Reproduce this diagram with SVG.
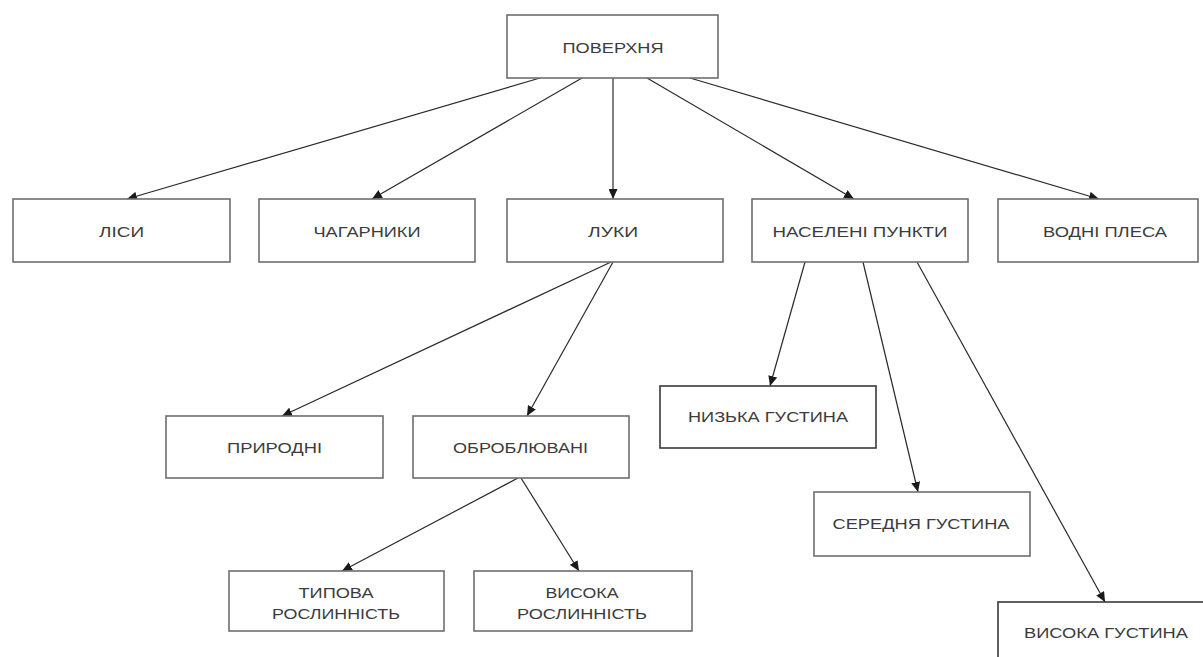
<svg xmlns="http://www.w3.org/2000/svg" width="1203" height="657" viewBox="0 0 1203 657">
<style>
.box{fill:#fff;stroke:#6e6e6e;stroke-width:1.6}
.dark{stroke:#3a3a3a}
.t{font-family:"Liberation Sans",Arial,sans-serif;font-size:15px;fill:#3c3c3c;text-anchor:middle;dominant-baseline:central}
.c{fill:none;stroke:#2a2a2a;stroke-width:1.2;marker-end:url(#ah)}
</style>
<defs>
<marker id="ah" markerUnits="userSpaceOnUse" markerWidth="11" markerHeight="9" refX="10" refY="4.5" orient="auto">
<path d="M0,0 L10,4.5 L0,9 z" fill="#1a1a1a"/>
</marker>
</defs>
<rect width="1203" height="657" fill="#fff"/>
<g id="connectors">
<line class="c" x1="540" y1="78" x2="127" y2="199"/>
<line class="c" x1="582" y1="78" x2="372" y2="199"/>
<line class="c" x1="613" y1="78" x2="613" y2="199"/>
<line class="c" x1="647" y1="78" x2="854" y2="199"/>
<line class="c" x1="690" y1="78" x2="1099" y2="199"/>
<line class="c" x1="611" y1="262" x2="282" y2="416"/>
<line class="c" x1="613" y1="262" x2="527" y2="416"/>
<line class="c" x1="518" y1="478" x2="342" y2="571"/>
<line class="c" x1="521" y1="478" x2="579" y2="571"/>
<line class="c" x1="805" y1="262" x2="770" y2="386"/>
<line class="c" x1="863" y1="262" x2="918" y2="492"/>
<line class="c" x1="917" y1="262" x2="1105" y2="602"/>
</g>
<g id="n-poverkhnia"><rect class="box" x="507" y="15" width="211" height="63"/><text class="t" x="613" y="47" textLength="101" lengthAdjust="spacingAndGlyphs">ПОВЕРХНЯ</text></g>
<g id="n-lisy"><rect class="box" x="13" y="199" width="217" height="63"/><text class="t" x="121.5" y="231" textLength="45" lengthAdjust="spacingAndGlyphs">ЛІСИ</text></g>
<g id="n-chaharnyky"><rect class="box" x="259" y="199" width="216" height="63"/><text class="t" x="367" y="231" textLength="107" lengthAdjust="spacingAndGlyphs">ЧАГАРНИКИ</text></g>
<g id="n-luky"><rect class="box" x="507" y="199" width="216" height="63"/><text class="t" x="613" y="231" textLength="50" lengthAdjust="spacingAndGlyphs">ЛУКИ</text></g>
<g id="n-naseleni"><rect class="box" x="752" y="199" width="216" height="63"/><text class="t" x="860" y="231" textLength="175" lengthAdjust="spacingAndGlyphs">НАСЕЛЕНІ ПУНКТИ</text></g>
<g id="n-vodni"><rect class="box" x="998" y="199" width="200" height="63"/><text class="t" x="1105" y="231" textLength="124" lengthAdjust="spacingAndGlyphs">ВОДНІ ПЛЕСА</text></g>
<g id="n-pryrodni"><rect class="box" x="166" y="416" width="217" height="62"/><text class="t" x="274.5" y="447" textLength="95" lengthAdjust="spacingAndGlyphs">ПРИРОДНІ</text></g>
<g id="n-obrobliuvani"><rect class="box" x="413" y="416" width="216" height="62"/><text class="t" x="520.5" y="447" textLength="135" lengthAdjust="spacingAndGlyphs">ОБРОБЛЮВАНІ</text></g>
<g id="n-typova"><rect class="box" x="229" y="571" width="215" height="60"/><text class="t" x="336" y="592" textLength="75" lengthAdjust="spacingAndGlyphs">ТИПОВА</text><text class="t" x="336" y="613" textLength="128" lengthAdjust="spacingAndGlyphs">РОСЛИННІСТЬ</text></g>
<g id="n-vysoka-rosl"><rect class="box" x="474" y="571" width="218" height="60"/><text class="t" x="582" y="592" textLength="73" lengthAdjust="spacingAndGlyphs">ВИСОКА</text><text class="t" x="582" y="613" textLength="130" lengthAdjust="spacingAndGlyphs">РОСЛИННІСТЬ</text></g>
<g id="n-nyzka"><rect class="box dark" x="660" y="386" width="216" height="62"/><text class="t" x="768" y="416" textLength="160" lengthAdjust="spacingAndGlyphs">НИЗЬКА ГУСТИНА</text></g>
<g id="n-serednia"><rect class="box" x="814" y="492" width="216" height="64"/><text class="t" x="921" y="523" textLength="177" lengthAdjust="spacingAndGlyphs">СЕРЕДНЯ ГУСТИНА</text></g>
<g id="n-vysoka-hust"><rect class="box dark" x="998" y="602" width="216" height="64"/><text class="t" x="1106" y="632" textLength="164" lengthAdjust="spacingAndGlyphs">ВИСОКА ГУСТИНА</text></g>
</svg>
